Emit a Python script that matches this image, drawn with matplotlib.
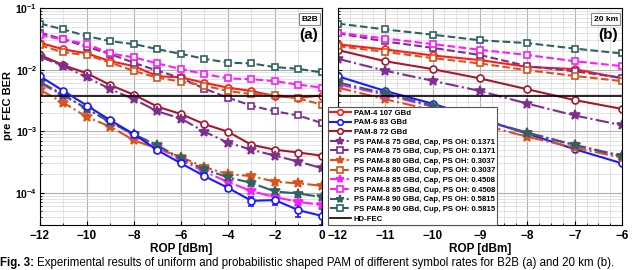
import numpy as np
import matplotlib
matplotlib.use('Agg')
import matplotlib.pyplot as plt
from matplotlib.ticker import MultipleLocator, FixedLocator, FixedFormatter, LogLocator, NullFormatter

plt.rcParams['font.family'] = ['Liberation Sans', 'DejaVu Sans']
plt.rcParams['font.weight'] = 'bold'
plt.rcParams['mathtext.fontset'] = 'custom'
plt.rcParams['mathtext.bf'] = 'Liberation Sans:bold'
plt.rcParams['mathtext.rm'] = 'Liberation Sans:bold'

# ROP axis
rop_b2b = [-12, -11, -10, -9, -8, -7, -6, -5, -4, -3, -2, -1, 0]
rop_20km = [-12, -11, -10, -9, -8, -7, -6]

labels = ['PAM-4 107 GBd', 'PAM-6 83 GBd', 'PAM-8 72 GBd',
          'PS PAM-8 75 GBd, Cap, PS OH: 0.1371', 'PS PAM-8 75 GBd, Cup, PS OH: 0.1371',
          'PS PAM-8 80 GBd, Cap, PS OH: 0.3037', 'PS PAM-8 80 GBd, Cup, PS OH: 0.3037',
          'PS PAM-8 85 GBd, Cap, PS OH: 0.4508', 'PS PAM-8 85 GBd, Cup, PS OH: 0.4508',
          'PS PAM-8 90 GBd, Cap, PS OH: 0.5815', 'PS PAM-8 90 GBd, Cup, PS OH: 0.5815']

# B2B (a)
b2b = [
    [0.0272, 0.0214, 0.0183, 0.0137, 0.0114, 0.0078, 0.0075, 0.0061, 0.0051, 0.0045, 0.0037, 0.0035, 0.0038],
    [0.0078, 0.0045, 0.0026, 0.0015, 0.00089, 0.00049, 0.00030, 0.000186, 0.00012, 7.4e-5, 7.6e-5, 5.2e-5, 4.2e-5],
    [0.0173, 0.0118, 0.0087, 0.0056, 0.0039, 0.0025, 0.0019, 0.0013, 0.00098, 0.0006, 0.0005, 0.00045, 0.0004],
    [0.0162, 0.0114, 0.0075, 0.0048, 0.0033, 0.0021, 0.0016, 0.00098, 0.00065, 0.0005, 0.0004, 0.00032, 0.00025],
    [0.040, 0.031, 0.0235, 0.0179, 0.0129, 0.0096, 0.0073, 0.0049, 0.0035, 0.0026, 0.0021, 0.0018, 0.00135],
    [0.0047, 0.0029, 0.0017, 0.00118, 0.00071, 0.00052, 0.00038, 0.00026, 0.0002, 0.000187, 0.000151, 0.000142, 0.00013],
    [0.025, 0.019, 0.0173, 0.013, 0.0095, 0.0074, 0.0064, 0.0055, 0.0045, 0.0040, 0.0039, 0.0034, 0.0027],
    [0.0060, 0.0038, 0.0023, 0.0014, 0.00088, 0.00056, 0.00034, 0.00022, 0.00015, 0.000106, 8.5e-5, 7.1e-5, 6.3e-5],
    [0.036, 0.031, 0.026, 0.0183, 0.0158, 0.0126, 0.0102, 0.0085, 0.0072, 0.0070, 0.0065, 0.0057, 0.0051],
    [0.0063, 0.0039, 0.0023, 0.0014, 0.00089, 0.00059, 0.00036, 0.00024, 0.000178, 0.000144, 0.000105, 9.7e-5, 8.5e-5],
    [0.056, 0.045, 0.035, 0.029, 0.026, 0.0215, 0.018, 0.015, 0.013, 0.0126, 0.011, 0.0103, 0.009],
]
# error bars of PAM-6 in B2B
pam6_err = [0, 0, 0, 0, 0, 0, 0, 0, 1.5e-5, 1.2e-5, 1.2e-5, 1.2e-5, 1.2e-5]

# 20 km (b)
km20 = [
    [0.0257, 0.0213, 0.017, 0.0143, 0.0111, 0.0102, 0.0072],
    [0.0078, 0.0045, 0.0028, 0.0016, 0.00091, 0.00051, 0.0003],
    [0.0208, 0.0137, 0.0102, 0.0072, 0.0048, 0.0032, 0.0023],
    [0.0150, 0.0096, 0.0066, 0.0045, 0.0028, 0.0018, 0.00125],
    [0.039, 0.0287, 0.0226, 0.0173, 0.0114, 0.0094, 0.0074],
    [0.0051, 0.0033, 0.0022, 0.0013, 0.00081, 0.00054, 0.00037],
    [0.024, 0.0195, 0.0154, 0.0126, 0.0098, 0.0079, 0.0065],
    [0.0058, 0.0039, 0.0025, 0.0015, 0.00095, 0.0006, 0.0004],
    [0.040, 0.032, 0.026, 0.021, 0.0173, 0.0137, 0.0114],
    [0.0062, 0.0041, 0.0026, 0.0016, 0.00094, 0.00059, 0.00039],
    [0.056, 0.045, 0.037, 0.030, 0.027, 0.022, 0.0183],
]
hd_fec = 3.8e-3

colors = ['#ff1a1a', '#1a1aff', '#a8182c', '#7e2f8e', '#7e2f8e', '#d95319', '#d95319',
          '#ff1aff', '#ff1aff', '#2f6262', '#2f6262']
styles = ['-', '-', '-', '-.', '--', '-.', '--', '-.', '--', '-.', '--']
markers = ['o', 'o', 'o', '*', 's', '*', 's', '*', 's', '*', 's']

fig = plt.figure(figsize=(6.4, 2.7), dpi=100)
ax1 = fig.add_axes([0.0625, 0.167, 0.4406, 0.803])
ax2 = fig.add_axes([0.528, 0.167, 0.444, 0.803])


def draw(ax, x, data, err=None):
    handles = []
    for i in range(len(data)):
        filled = markers[i] == '*'
        kw = dict(color=colors[i], ls=styles[i], marker=markers[i], lw=1.5,
                  ms=7 if filled else 5, mew=1.2,
                  mfc=colors[i] if filled else 'white', mec=colors[i])
        if i == 1 and err is not None:
            ax.errorbar(x, data[i], yerr=err, ecolor=colors[i], elinewidth=1.2, capsize=2, **kw)
            h, = ax.plot([], [], label=labels[i], **kw)
        else:
            h, = ax.plot(x, data[i], label=labels[i], **kw)
        handles.append(h)
    h, = ax.plot([x[0], x[-1]], [hd_fec, hd_fec], color='black', lw=1.2, label='HD-FEC')
    handles.append(h)
    return handles


draw(ax1, rop_b2b, b2b, pam6_err)
handles = draw(ax2, rop_20km, km20)

ytick_vals = [1e-4, 1e-3, 1e-2, 1e-1]
ytick_txt = [r'$\mathbf{10^{-4}}$', r'$\mathbf{10^{-3}}$', r'$\mathbf{10^{-2}}$', r'$\mathbf{10^{-1}}$']

for ax in (ax1, ax2):
    ax.set_yscale('log')
    ax.set_ylim(3e-5, 1e-1)
    ax.yaxis.set_major_locator(FixedLocator(ytick_vals))
    ax.yaxis.set_minor_locator(LogLocator(base=10, subs=np.arange(2, 10)))
    ax.yaxis.set_minor_formatter(NullFormatter())
    ax.grid(True, which='major', color='#b0b0b0', lw=0.8)
    ax.grid(True, which='minor', color='#d8d8d8', lw=0.5)
    ax.tick_params(which='both', direction='in', labelsize=8.5, length=3)
    ax.tick_params(axis='y', labelsize=7.5, pad=2)
    ax.tick_params(which='minor', length=1.5)
    ax.set_axisbelow(True)
    for s in ax.spines.values():
        s.set_linewidth(0.8)
    ax.set_xlabel('ROP [dBm]', fontsize=8.5, fontweight='bold', labelpad=1)

ax1.set_xlim(-12, 0)
ax1.xaxis.set_major_locator(MultipleLocator(2))
ax1.xaxis.set_minor_locator(MultipleLocator(1))
ax1.yaxis.set_major_formatter(FixedFormatter(ytick_txt))
ax1.set_ylabel('pre FEC BER', fontsize=8, fontweight='bold')
ax1.yaxis.set_label_coords(-0.095, 0.55)

ax2.set_xlim(-12, -6)
ax2.xaxis.set_major_locator(MultipleLocator(1))
ax2.xaxis.set_minor_locator(MultipleLocator(0.25))
ax2.set_yticklabels([])

box = dict(boxstyle='square,pad=0.3', fc='white', ec='#888888', lw=0.8)
ax1.text(0.985, 0.965, 'B2B', transform=ax1.transAxes, ha='right', va='top',
         fontsize=6, fontweight='bold', bbox=box)
ax1.text(0.985, 0.875, '(a)', transform=ax1.transAxes, ha='right', va='center',
         fontsize=11, fontweight='bold')
ax2.text(0.985, 0.965, '20 km', transform=ax2.transAxes, ha='right', va='top',
         fontsize=6, fontweight='bold', bbox=box)
ax2.text(0.985, 0.875, '(b)', transform=ax2.transAxes, ha='right', va='center',
         fontsize=11, fontweight='bold')

leg = fig.legend(handles=handles, loc='upper left', bbox_to_anchor=(0.5125, 0.604),
                 prop={'size': 5.6, 'weight': 'bold'}, handlelength=2.6, labelspacing=0.28,
                 borderpad=0.3, handletextpad=0.4, fancybox=False, framealpha=1,
                 edgecolor='#555555', borderaxespad=0)
leg.get_frame().set_linewidth(0.8)
for lh in leg.legend_handles:
    if lh.get_marker() == '*':
        lh.set_markersize(6)
    elif lh.get_marker() in ('o', 's'):
        lh.set_markersize(4)

fig.canvas.draw()
t1 = fig.text(0.0, 0.004, 'Fig. 3:', fontsize=8.3, fontweight='bold', va='bottom', ha='left')
bb = t1.get_window_extent(fig.canvas.get_renderer())
fig.text((bb.x1 + 3) / fig.bbox.width, 0.004,
         'Experimental results of uniform and probabilistic shaped PAM of different symbol rates for B2B (a) and 20 km (b).',
         fontsize=8.3, fontweight='normal', va='bottom', ha='left')

fig.savefig('out.png', dpi=100)
